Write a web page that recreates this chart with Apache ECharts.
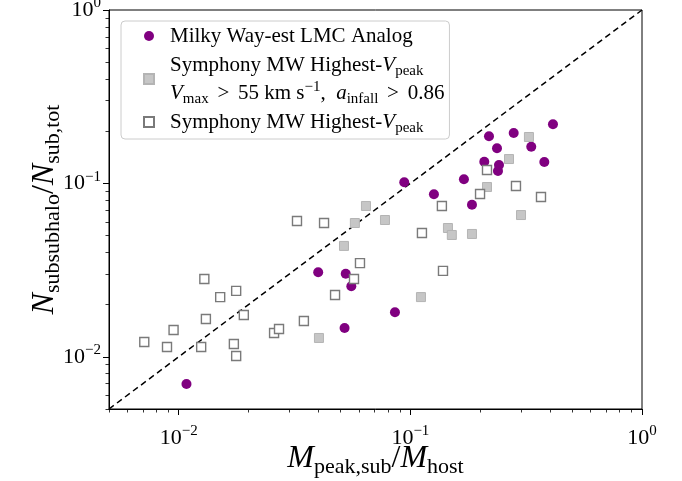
<!DOCTYPE html>
<html><head><meta charset="utf-8">
<script src="https://cdn.jsdelivr.net/npm/echarts@6/dist/echarts.min.js"></script>
<style>html,body{margin:0;padding:0;background:#fff}#c{width:682px;height:481px}</style>
</head><body><div id="c"></div>
<script>
// Milky Way-est LMC analogs
const lmcX = [0.0108,0.0400,0.0526,0.0556,0.0520,0.0858,0.0941,0.1264,0.1703,0.1845,0.2085,0.2185,0.2366,0.2413,0.2389,0.2793,0.3326,0.3787,0.4127];
const lmcY = [0.00697,0.0307,0.0301,0.0255,0.01466,0.01805,0.1015,0.0865,0.1056,0.0754,0.1334,0.1869,0.1594,0.1277,0.1179,0.1953,0.1628,0.1329,0.2193];
// Symphony MW highest-Vpeak with Vmax > 55 km/s, a_infall > 0.86
const cutX = [0.325,0.2666,0.2142,0.0777,0.0643,0.0576,0.0517,0.0403,0.1111,0.1453,0.151,0.1845,0.3004];
const cutY = [0.1852,0.1382,0.0953,0.0615,0.0741,0.0591,0.0436,0.01284,0.0221,0.0553,0.0504,0.0511,0.0657];
// Symphony MW highest-Vpeak (all)
const symX = [0.0071,0.0089,0.0095,0.0125,0.0131,0.0129,0.0151,0.0177,0.0191,0.0173,0.0177,0.0258,0.0271,0.0347,0.0473,0.0571,0.0606,0.0324,0.0424,0.1122,0.1383,0.1368,0.1999,0.2142,0.2857,0.3664];
const symY = [0.01217,0.01139,0.01428,0.01139,0.01652,0.0281,0.0221,0.0240,0.01742,0.01186,0.01011,0.01372,0.01446,0.01609,0.0227,0.0281,0.0347,0.0607,0.0591,0.0518,0.0313,0.0741,0.0869,0.1195,0.0966,0.0835];
// one-to-one line
const diag = [0.005, 1];
// ticks
const majorTicks = [0.01, 0.1, 1];
const minorTicks = [0.005,0.006,0.007,0.008,0.009,0.02,0.03,0.04,0.05,0.06,0.07,0.08,0.09,0.2,0.3,0.4,0.5,0.6,0.7,0.8,0.9];
const legendNames = ['lmc','cut','sym'];

const FONT = 'Liberation Serif';
const zip = (a,b) => a.map((v,i)=>[v,b[i]]);
function tickFmt(v){
  const e = Math.round(Math.log10(v));
  return '{b|10}{e|' + (e<0 ? '\u2212' + (-e) : e) + '}';
}
const tickRich = {
  b:{fontSize:22,fontFamily:FONT,color:'#000'},
  e:{fontSize:15,fontFamily:FONT,color:'#000',padding:[0,0,13,0]}
};
function mkAxis(isX){
  const common = {type:'log',logBase:10,min:0.005,max:1,splitLine:{show:false},minorTick:{show:false},minorSplitLine:{show:false}};
  const main = Object.assign({}, common, {
    position: isX?'bottom':'left',
    axisLine:{show:true,onZero:false,lineStyle:{color:'#000',width:1}},
    axisTick:{show:true,customValues:majorTicks,length:6,lineStyle:{color:'#000',width:1}},
    axisLabel:{show:true,customValues:majorTicks,formatter:tickFmt,rich:tickRich,margin:isX?15:8},
    nameLocation:'middle',
    nameMoveOverlap:false,
    nameGap: isX?31:45,
    nameRotate: isX?0:90,
    name: isX ? '{i|M}{s|peak,sub}{r|/}{i|M}{s|host}' : '{i|N}{s|subsubhalo}{r|/}{i|N}{s|sub,tot}',
    nameTextStyle:{
      rich:{
        i:{fontSize:32,fontStyle:'italic',fontFamily:FONT,color:'#000'},
        r:{fontSize:32,fontFamily:FONT,color:'#000'},
        s:{fontSize:22,fontFamily:FONT,color:'#000',padding:[16,0,0,0]}
      }
    }
  });
  const minor = Object.assign({}, common, {
    position: isX?'bottom':'left',
    axisLine:{show:false},
    axisTick:{show:true,customValues:minorTicks,length:3.5,lineStyle:{color:'#000',width:0.8}},
    axisLabel:{show:false}
  });
  return [main, minor];
}
const legRich = {
  t:{fontSize:21,fontFamily:FONT,color:'#000'},
  i:{fontSize:21,fontFamily:FONT,fontStyle:'italic',color:'#000'},
  s:{fontSize:15,fontFamily:FONT,color:'#000',padding:[12,0,0,0]},
  p:{fontSize:15,fontFamily:FONT,color:'#000',padding:[0,0,12,0]}
};
const legText = {
  lmc:'{t|Milky Way-est LMC Analog}',
  cut:'{t|Symphony MW Highest-}{i|V}{s|peak}\n{i|V}{s|max}{t| \u2006>\u2006 55 km s}{p|\u22121}{t|,  }{i|a}{s|infall}{t| \u2006>\u2006 0.86}',
  sym:'{t|Symphony MW Highest-}{i|V}{s|peak}'
};
const SQ = 'path://M0,0L10,0L10,10L0,10Z';

const chart = echarts.init(document.getElementById('c'), null, {renderer:'canvas'});
chart.setOption({
  animation:false,
  backgroundColor:'#fff',
  grid:{left:109,right:40,top:10,bottom:72,outerBoundsMode:'none',containLabel:false,show:true,borderColor:'#000',borderWidth:1,backgroundColor:'transparent'},
  xAxis: mkAxis(true),
  yAxis: mkAxis(false),
  legend:{
    orient:'vertical',left:121,top:21,
    data: [{name:'lmc',icon:'circle'},{name:'cut',icon:SQ},{name:'sym',icon:SQ}],
    formatter: n => legText[n],
    textStyle:{fontSize:21,fontFamily:FONT,lineHeight:28,rich:legRich},
    itemWidth:32,itemHeight:10,itemGap:1,
    padding:[1,5,3,22],
    borderColor:'#cccccc',borderWidth:1,borderRadius:4,backgroundColor:'#fff',
    symbolKeepAspect:true
  },
  series:[
    {type:'line',name:'diag',data:zip(diag,diag),xAxisIndex:0,yAxisIndex:0,showSymbol:false,symbol:'none',
     lineStyle:{color:'#000',width:1.5,type:[6,4]},z:1,silent:true},
    {type:'scatter',name:'lmc',data:zip(lmcX,lmcY),symbol:'circle',symbolSize:10,
     itemStyle:{color:'#800080',opacity:1},z:3},
    {type:'scatter',name:'cut',data:zip(cutX,cutY),symbol:'rect',symbolSize:9,
     itemStyle:{color:'#c6c6c6',borderColor:'#b4b4b4',borderWidth:1,opacity:1},z:4},
    {type:'scatter',name:'sym',data:zip(symX,symY),symbol:'rect',symbolSize:9,
     itemStyle:{color:'#ffffff',borderColor:'#7a7a7a',borderWidth:1.4,opacity:1},z:5}
  ]
});
</script></body></html>
